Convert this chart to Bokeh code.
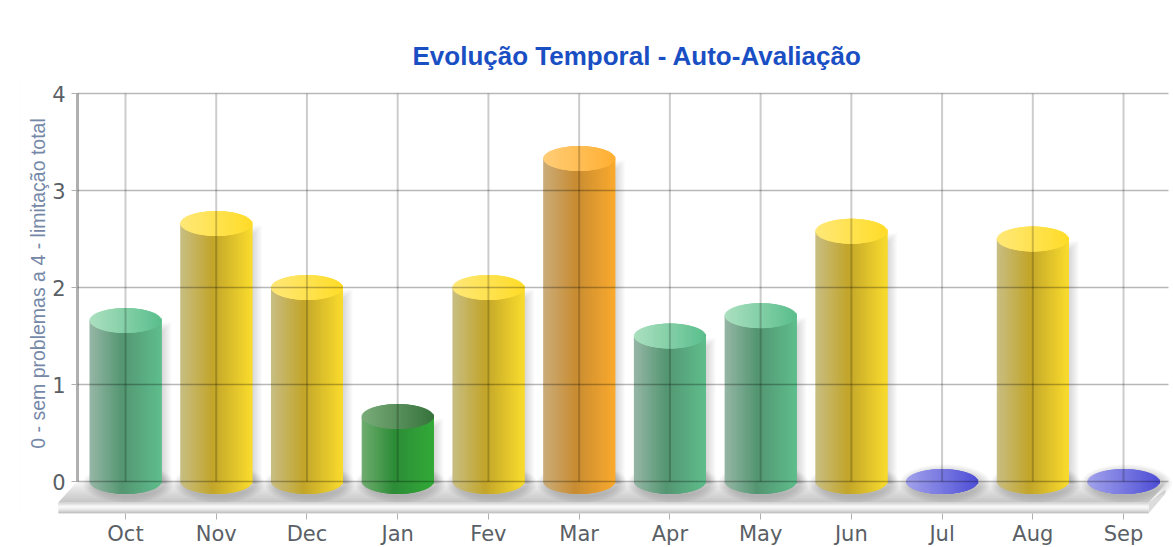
import math
from bokeh.core.properties import value
from bokeh.embed import file_html
from bokeh.resources import INLINE
from bokeh.plotting import figure
from bokeh.models import FixedTicker, BoxAnnotation, Range1d

months = ["Oct", "Nov", "Dec", "Jan", "Fev", "Mar", "Apr", "May", "Jun", "Jul", "Aug", "Sep"]
scores = [1.66, 2.66, 2.0, 0.67, 2.0, 3.33, 1.5, 1.71, 2.58, 0.0, 2.5, 0.0]
bands = ["green", "yellow", "yellow", "dark", "yellow", "orange", "green", "green", "yellow", "blue", "yellow", "blue"]
title_text = "Evolução Temporal - Auto-Avaliação"
y_title = "0 - sem problemas a 4 - limitação total"
y_ticks = [0, 1, 2, 3, 4]

# gradient stops: body left, body middle, body right, cap left, cap right
PALETTE = {
    "green": [(150, 182, 166), (84, 150, 114), (95, 190, 140), (172, 224, 192), (90, 190, 140)],
    "yellow": [(200, 190, 132), (194, 165, 42), (250, 220, 45), (255, 232, 120), (255, 220, 40)],
    "orange": [(202, 172, 122), (200, 140, 50), (250, 170, 45), (255, 205, 120), (255, 175, 50)],
    "dark": [(112, 172, 112), (45, 140, 55), (50, 170, 55), (122, 172, 122), (55, 115, 60)],
    "blue": [(150, 150, 230), (100, 100, 220), (80, 80, 215), (162, 162, 236), (78, 78, 214)],
}

# pixel geometry of the drawing area, in page pixels
PX_X, PX_Y = 90.73, 97.0
X0_PAGE, Y0_PAGE = 125.0, 481.0
F_L, F_R, F_T, F_B = 20, 1173, 80, 513
FIG_W, FIG_H = 1173, 547


def dx(px):
    return px / PX_X


def dy(px):
    return px / PX_Y


def px_x(page):
    return (page - X0_PAGE) / PX_X


def px_y(page):
    return (Y0_PAGE - page) / PX_Y


def mix(a, b, t):
    return tuple(a[i] + (b[i] - a[i]) * t for i in range(3))


def css(c):
    return "#%02x%02x%02x" % tuple(int(round(v)) for v in c)


p = figure(
    width=FIG_W, height=FIG_H, output_backend="svg", toolbar_location=None,
    x_range=Range1d(px_x(F_L), px_x(F_R)), y_range=Range1d(px_y(F_B), px_y(F_T)),
    min_border_left=F_L, min_border_right=0, min_border_top=F_T, min_border_bottom=FIG_H - F_B,
    frame_width=F_R - F_L, frame_height=F_B - F_T,
    background_fill_color="white", border_fill_color="white",
)
p.outline_line_color = None
p.grid.visible = False

# page frame
p.add_layout(BoxAnnotation(left=6, right=20, top=12, bottom=FIG_H, left_units="canvas", right_units="canvas",
                           top_units="canvas", bottom_units="canvas", fill_color="#f8f8f8", fill_alpha=1,
                           line_color=None, level="underlay"))
p.add_layout(BoxAnnotation(left=6, right=FIG_W, top=12, bottom=18, left_units="canvas", right_units="canvas",
                           top_units="canvas", bottom_units="canvas", fill_color="#f8f8f8", fill_alpha=1,
                           line_color=None, level="underlay"))

# floor: top face
FL_TOP, FL_FRONT, FL_BOT = 481, 502, 513
FL_L_BACK, FL_L_FRONT, FL_R_FRONT, FL_R_BACK = 77, 58, 1148, 1167
xs, ys, cs = [], [], []
n = FL_FRONT - FL_TOP
for i in range(n):
    t0, t1 = i / n, min((i + 2) / n, 1)
    xs.append([px_x(FL_L_BACK + (FL_L_FRONT - FL_L_BACK) * t0), px_x(FL_R_BACK + (FL_R_FRONT - FL_R_BACK) * t0),
               px_x(FL_R_BACK + (FL_R_FRONT - FL_R_BACK) * t1), px_x(FL_L_BACK + (FL_L_FRONT - FL_L_BACK) * t1)])
    ys.append([px_y(FL_TOP + n * t0), px_y(FL_TOP + n * t0), px_y(FL_TOP + n * t1), px_y(FL_TOP + n * t1)])
    cs.append(css(mix((250, 250, 250), (196, 196, 196), t0 ** 0.8)))
p.patches(xs, ys, fill_color=cs, line_color=None)

# floor: side face
p.patch([px_x(FL_R_FRONT), px_x(FL_R_BACK - 2), px_x(FL_R_BACK - 2), px_x(FL_R_FRONT)],
        [px_y(FL_FRONT), px_y(FL_TOP + 8), px_y(FL_TOP + 12), px_y(FL_BOT)],
        fill_color="#dcdcdc", line_color=None)

# floor: front face
n = FL_BOT - FL_FRONT
rows = [FL_FRONT + i for i in range(n)]
shades = []
for i in range(n):
    t = i / (n - 1)
    shades.append(css(mix((214, 214, 214), (250, 250, 250), t / 0.35)) if t < 0.35
                  else css(mix((250, 250, 250), (190, 190, 190), ((t - 0.35) / 0.65) ** 1.5)))
p.quad(left=px_x(FL_L_FRONT), right=px_x(FL_R_FRONT),
       top=[px_y(r) for r in rows], bottom=[px_y(min(r + 2, FL_BOT)) for r in rows],
       fill_color=shades, line_color=None)

RX, RY = 36.0, 12.5
OVERLAP = 3.0

# soft shadows behind each cylinder
sx, sy = [], []
for i, v in enumerate(scores):
    for k in range(10, 0, -1):
        a = [j / 40 * 2 * math.pi for j in range(40)]
        sx.append([i + dx(3) + dx((RX + k) * math.cos(t)) for t in a])
        sy.append([-dy(2) + dy((RY + k * 0.7) * math.sin(t)) for t in a])
        if v > 0:
            sx.append([i + dx(RX - 2), i + dx(RX + k), i + dx(RX + k), i + dx(RX - 2)])
            sy.append([v - dy(2 + (10 - k)), v - dy(2 + (10 - k)), -dy(2), -dy(2)])
p.patches(sx, sy, fill_color="#000000", fill_alpha=0.014, line_color=None)


def half_chord(off):
    return math.sqrt(max(0.0, 1 - (off / RX) ** 2))


# cylinders, column by column so that the colours run across the body; each
# column overlaps the next so that no background leaks between them
body = dict(left=[], right=[], top=[], bottom=[], color=[])
cap = dict(left=[], right=[], top=[], bottom=[], color=[])
for i, (v, band) in enumerate(zip(scores, bands)):
    stops = PALETTE[band]
    w = int(2 * RX)
    for k in range(w):
        t = (k + 0.5) / w
        off = -RX + k
        end = min(off + OVERLAP, RX)
        s = min(half_chord(off + 0.5), half_chord(end - 0.5))
        c = mix(stops[0], stops[1], t / 0.45) if t < 0.45 else mix(stops[1], stops[2], (t - 0.45) / 0.55)
        body["left"].append(i + dx(off))
        body["right"].append(i + dx(end))
        body["top"].append(v)
        body["bottom"].append(-dy(RY * s))
        body["color"].append(css(c))
        cap["left"].append(i + dx(off))
        cap["right"].append(i + dx(end))
        cap["top"].append(v + dy(RY * s))
        cap["bottom"].append(v - dy(RY * s))
        cap["color"].append(css(mix(stops[3], stops[4], t)))
p.quad(source=body, left="left", right="right", top="top", bottom="bottom", fill_color="color", line_color=None)
p.quad(source=cap, left="left", right="right", top="top", bottom="bottom", fill_color="color", line_color=None)

# grid lines sit on top with transparency, as they show through the bars
x_pos = list(range(len(months)))
p.segment(x0=x_pos, x1=x_pos, y0=[0] * len(x_pos), y1=[max(y_ticks)] * len(x_pos),
          line_color="#000000", line_alpha=0.2, line_width=2, level="overlay")
p.segment(x0=[px_x(77)] * len(y_ticks), x1=[px_x(1168)] * len(y_ticks), y0=y_ticks, y1=y_ticks,
          line_color="#000000", line_alpha=0.28, line_width=1.5, level="overlay")

# axes
ax = p.xaxis[0]
ax.ticker = FixedTicker(ticks=x_pos)
ax.major_label_overrides = {i: m for i, m in enumerate(months)}
ax.axis_line_color = None
ax.major_tick_line_color = "#b0b0b0"
ax.major_tick_line_width = 1
ax.major_tick_in = 0
ax.major_tick_out = 6
ax.minor_tick_line_color = None
ax.major_label_text_font = "DejaVu Sans"
ax.major_label_text_font_size = "21px"
ax.major_label_text_color = "#5a5f66"
ax.major_label_standoff = 2

ay = p.yaxis[0]
ay.ticker = FixedTicker(ticks=y_ticks)
ay.fixed_location = px_x(77)
ay.bounds = (0, 4)
ay.axis_line_color = "#b0b0b0"
ay.axis_line_width = 3
ay.major_tick_line_color = "#b0b0b0"
ay.major_tick_in = 0
ay.major_tick_out = 6
ay.minor_tick_line_color = None
ay.major_label_text_font = "DejaVu Sans"
ay.major_label_text_font_size = "21px"
ay.major_label_text_color = "#5a5f66"
ay.major_label_standoff = 6

p.text(x=[px_x(37)], y=[px_y(283)], text=[y_title], angle=math.pi / 2,
       text_align="center", text_baseline="middle", text_font=value("Liberation Sans"),
       text_font_size="19.5px", text_color="#7688a8")

p.title.text = title_text
p.title.text_font = "Liberation Sans"
p.title.text_font_style = "bold"
p.title.text_font_size = "26px"
p.title.text_color = "#1a4fc4"
p.title.align = "left"
p.title.offset = 412 - F_L
p.title.standoff = 19

open("out.html", "w").write(file_html(p, INLINE))
